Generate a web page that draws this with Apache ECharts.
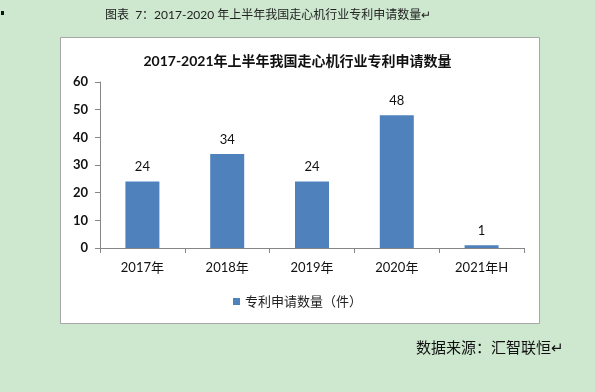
<!DOCTYPE html>
<html><head><meta charset="utf-8">
<script src="https://cdn.jsdelivr.net/npm/echarts@6/dist/echarts.min.js"></script>
<style>html,body{margin:0;padding:0;background:#cde8cf;}#c{width:595px;height:392px;}</style>
</head><body><div id="c"></div>
<script>
const categories = ['2017年','2018年','2019年','2020年','2021年H'];
const values = [24, 34, 24, 48, 1];
const seriesName = '专利申请数量（件）';
const yTicks = {min: 0, max: 60, interval: 10};
const outerTitle = '图表  7：2017-2020 年上半年我国走心机行业专利申请数量↵';
const chartTitle = '2017-2021年上半年我国走心机行业专利申请数量';
const sourceText = '数据来源：汇智联恒↵';

const font = 'Lato, "Noto Sans CJK SC", sans-serif';
const chart = echarts.init(document.getElementById('c'), null, {renderer: 'canvas'});
chart.setOption({
  backgroundColor: '#cde8cf',
  animation: false,
  graphic: [
    {type: 'rect', z: -10, shape: {x: 60.5, y: 37.5, width: 479, height: 286},
     style: {fill: '#ffffff', stroke: '#a6a6a6', lineWidth: 1}},
    {type: 'rect', shape: {x: 1, y: 11, width: 3, height: 4}, style: {fill: '#111'}},
    {type: 'text', left: 105, top: 9, style: {text: outerTitle, fill: '#222', font: '12px ' + font}},
    {type: 'text', left: 416, top: 341, style: {text: sourceText, fill: '#111', font: '15px ' + font}}
  ],
  title: {
    text: chartTitle, left: 'center', top: 49,
    textStyle: {fontSize: 14, fontWeight: 'bold', color: '#111', fontFamily: font}
  },
  legend: {
    data: [seriesName], bottom: 79, left: 'center', itemWidth: 7, itemHeight: 7, icon: 'rect',
    textStyle: {fontSize: 13, color: '#222', fontFamily: font}
  },
  grid: {left: 100, right: 71, top: 82, bottom: 144},
  xAxis: {
    type: 'category', data: categories,
    axisLine: {lineStyle: {color: '#868686'}},
    axisTick: {show: true, length: 5, lineStyle: {color: '#868686'}},
    axisLabel: {fontSize: 13, color: '#111', margin: 13, fontFamily: font}
  },
  yAxis: {
    type: 'value', min: yTicks.min, max: yTicks.max, interval: yTicks.interval,
    splitLine: {show: false},
    axisLine: {show: true, lineStyle: {color: '#868686'}},
    axisTick: {show: true, length: 5, lineStyle: {color: '#868686'}},
    axisLabel: {fontSize: 13, color: '#111', margin: 12, fontWeight: 'bold', fontFamily: font}
  },
  series: [{
    name: seriesName, type: 'bar', data: values, barWidth: 34,
    itemStyle: {color: '#4f81bd'},
    label: {show: true, position: 'top', distance: 8, fontSize: 13, color: '#111', fontFamily: font}
  }]
});
</script></body></html>
